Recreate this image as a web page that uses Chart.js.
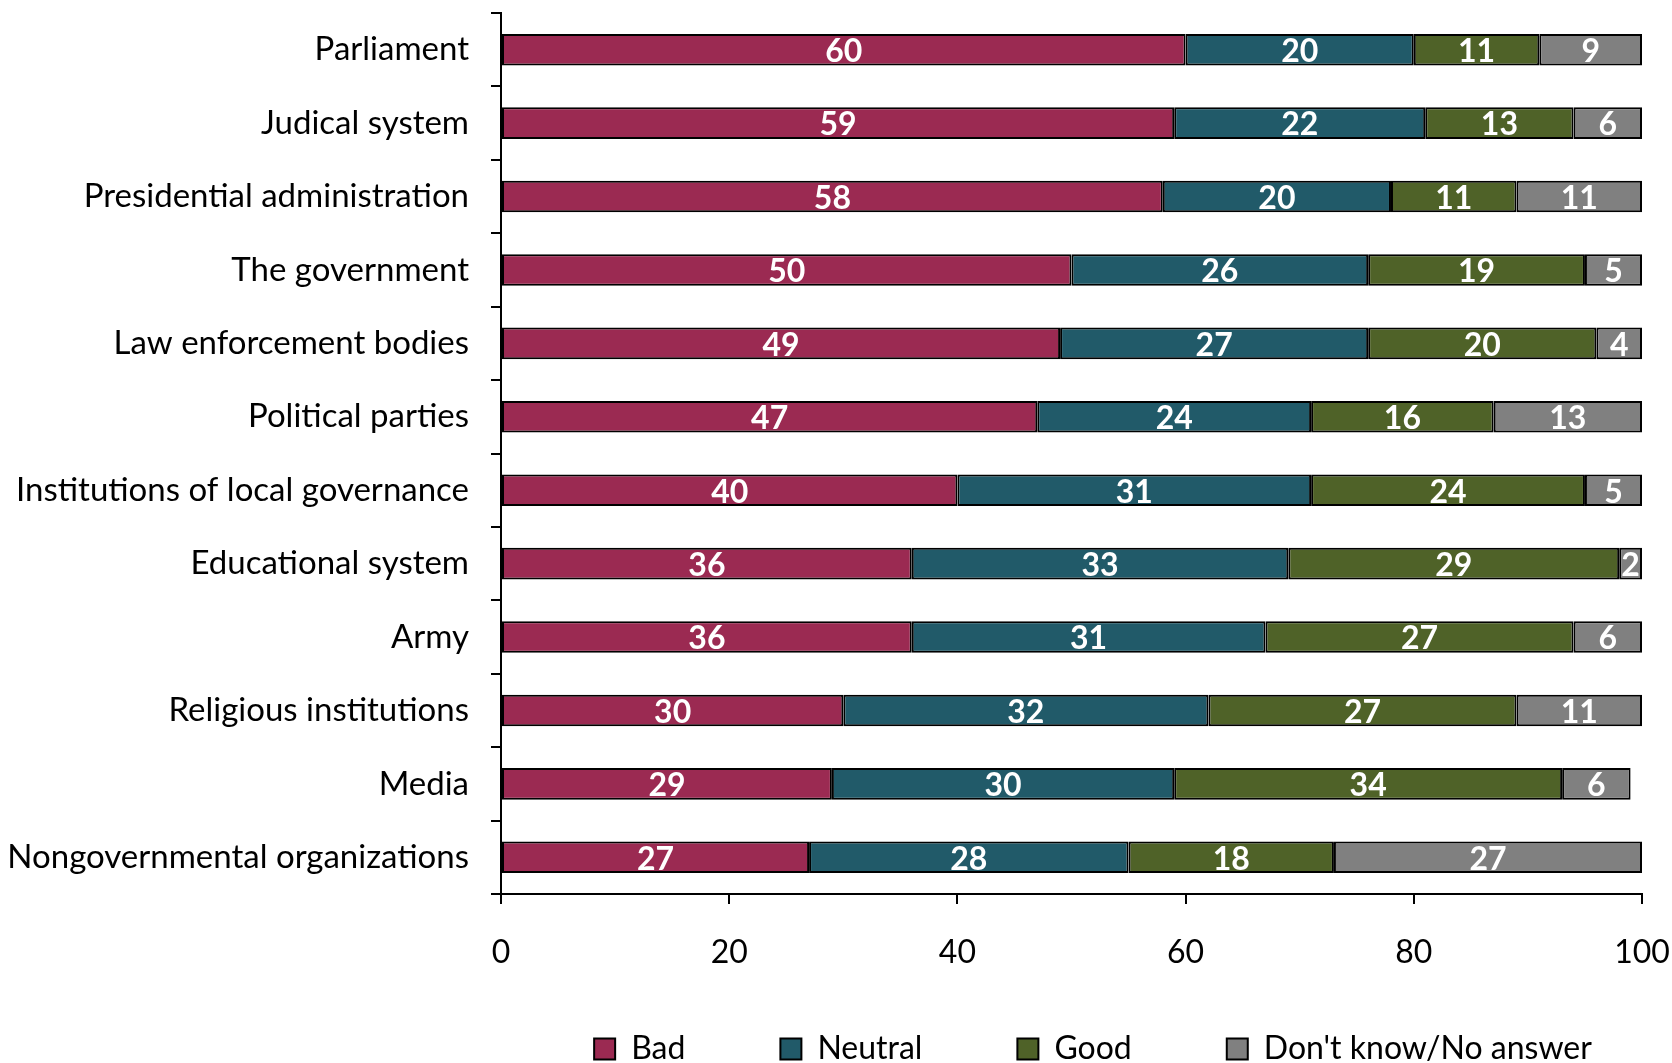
<!DOCTYPE html>
<html>
<head>
<meta charset="utf-8">
<script src="https://cdn.jsdelivr.net/npm/chart.js@4"></script>
<style>
  body { margin: 0; background: #fff; }
  #wrap { width: 1672px; height: 1063px; }
</style>
</head>
<body>
<div id="wrap"><canvas id="trustChart"></canvas></div>
<script>
const categories = [
  "Parliament", "Judical system", "Presidential administration", "The government",
  "Law enforcement bodies", "Political parties", "Institutions of local governance",
  "Educational system", "Army", "Religious institutions", "Media",
  "Nongovernmental organizations"
];
const bad      = [60, 59, 58, 50, 49, 47, 40, 36, 36, 30, 29, 27];
const neutral  = [20, 22, 20, 26, 27, 24, 31, 33, 31, 32, 30, 28];
const good     = [11, 13, 11, 19, 20, 16, 24, 29, 27, 27, 34, 18];
const dontKnow = [9, 6, 11, 5, 4, 13, 5, 2, 6, 11, 6, 27];
const xTicks = [0, 20, 40, 60, 80, 100];

Chart.defaults.font.family = "Lato";
Chart.defaults.color = "#000";

// white value labels in the middle of each segment
const barLabels = {
  id: "barLabels",
  afterDatasetsDraw(chart) {
    const ctx = chart.ctx;
    ctx.save();
    ctx.font = "bold 32px Lato";
    ctx.fillStyle = "#fff";
    ctx.textAlign = "center";
    ctx.textBaseline = "middle";
    chart.data.datasets.forEach((ds, i) => {
      chart.getDatasetMeta(i).data.forEach((bar, j) => {
        const p = bar.getCenterPoint();
        ctx.fillText(ds.data[j], p.x, p.y + 2);
      });
    });
    ctx.restore();
  }
};

// legend sits right of centre in the original; the wide label padding
// also pushes it down, so pull its box up to make room
const legendShift = {
  id: "legendShift",
  afterLayout(chart) {
    const lg = chart.legend;
    lg.left += 272;
    lg.right += 272;
    lg.top = 938;
    lg.bottom = chart.height;
  }
};

function series(label, data, color) {
  return {
    label: label,
    data: data,
    backgroundColor: color,
    borderColor: "#000",
    borderWidth: 2,
    borderSkipped: false,
    barPercentage: 0.43,
    categoryPercentage: 1
  };
}

new Chart(document.getElementById("trustChart").getContext("2d"), {
  type: "bar",
  data: {
    labels: categories,
    datasets: [
      series("Bad", bad, "#9B2A52"),
      series("Neutral", neutral, "#215A69"),
      series("Good", good, "#4F6228"),
      series("Don't know/No answer", dontKnow, "#808080")
    ]
  },
  options: {
    indexAxis: "y",
    responsive: true,
    maintainAspectRatio: false,
    animation: false,
    layout: { padding: { top: 13, right: 30, left: 0, bottom: 0 } },
    scales: {
      x: {
        stacked: true,
        min: xTicks[0],
        max: xTicks[xTicks.length - 1],
        afterFit: (axis) => {
          axis.height = 90;
          axis.paddingLeft = 0;
          axis.paddingRight = 0;
        },
        border: { display: true, color: "#000", width: 2 },
        grid: { drawOnChartArea: false, drawTicks: true, tickLength: 10, color: "#000", lineWidth: 2 },
        ticks: { stepSize: xTicks[1] - xTicks[0], font: { size: 32 }, padding: 29, maxRotation: 0, autoSkip: false }
      },
      y: {
        stacked: true,
        afterFit: (axis) => {
          axis.width = 501;
          axis.paddingTop = 0;
          axis.paddingBottom = 0;
        },
        border: { display: true, color: "#000", width: 2 },
        grid: { offset: true, drawOnChartArea: false, drawTicks: true, tickLength: 10, color: "#000", lineWidth: 2 },
        ticks: { font: { size: 33 }, padding: 22, autoSkip: false }
      }
    },
    plugins: {
      legend: {
        position: "bottom",
        maxHeight: 79,
        labels: { boxWidth: 21, boxHeight: 21, padding: 95, font: { size: 32 }, color: "#000" }
      },
      tooltip: { enabled: false }
    }
  },
  plugins: [barLabels, legendShift]
});
</script>
</body>
</html>
